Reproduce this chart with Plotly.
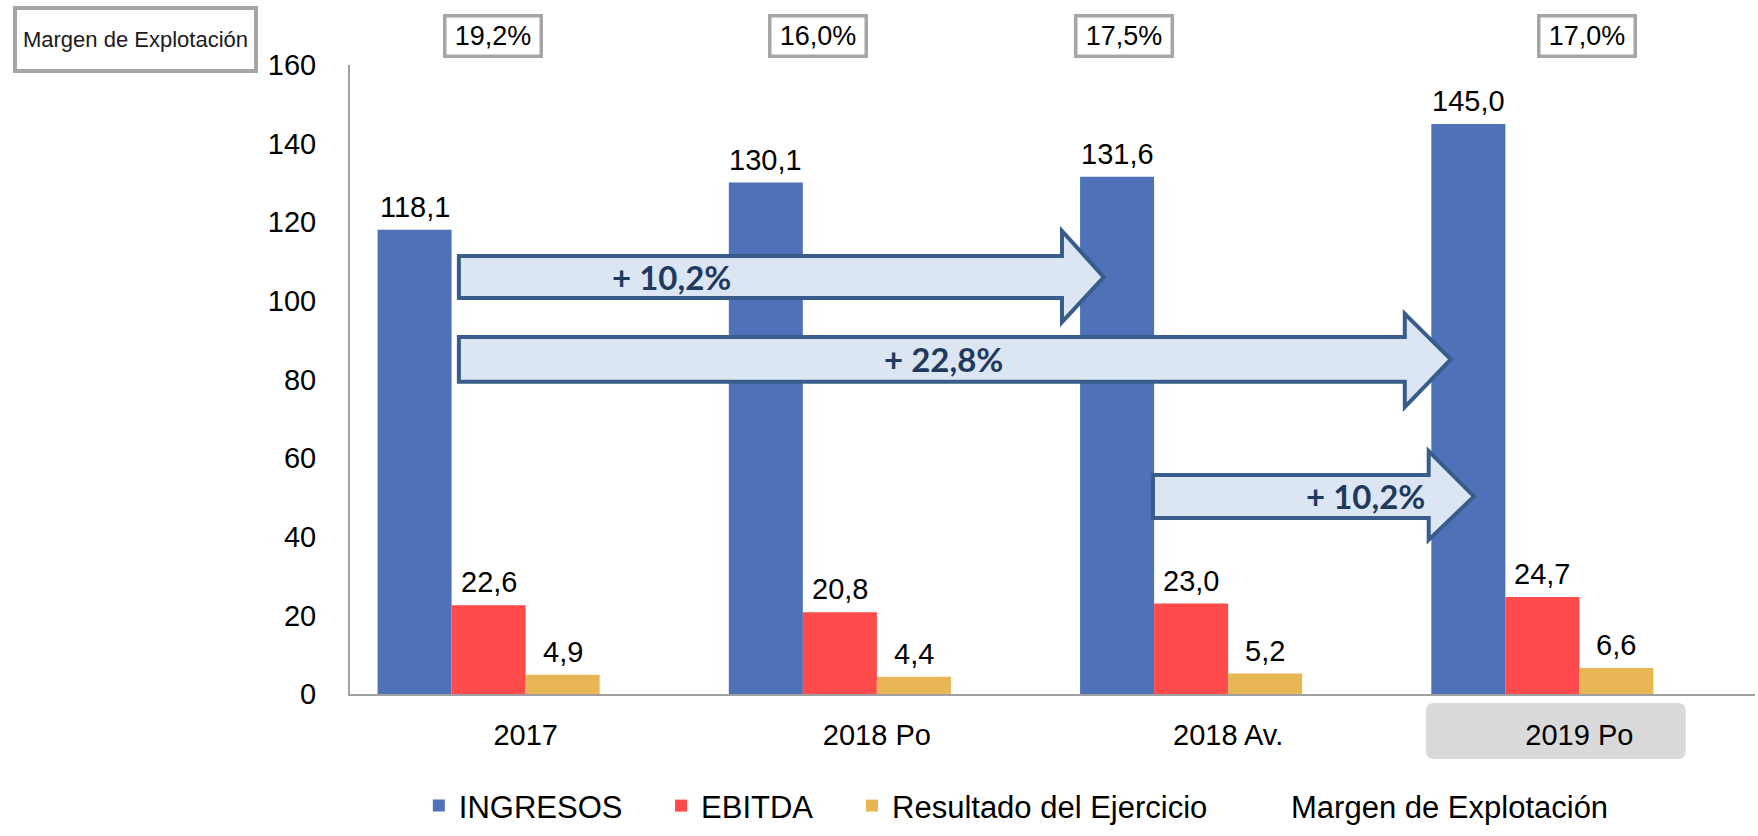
import plotly.graph_objects as go

# ---------------- data ----------------
categories = ["2017", "2018 Po", "2018 Av.", "2019 Po"]
ingresos = [118.1, 130.1, 131.6, 145.0]
ebitda = [22.6, 20.8, 23.0, 24.7]
resultado = [4.9, 4.4, 5.2, 6.6]
margen = [19.2, 16.0, 17.5, 17.0]
growth_labels = ["+ 10,2%", "+ 22,8%", "+ 10,2%"]
y_ticks = [0, 20, 40, 60, 80, 100, 120, 140, 160]

series_names = ["INGRESOS", "EBITDA", "Resultado del Ejercicio", "Margen de Explotación"]
colors = ["#4f71b7", "#ff4b4b", "#e8b654", "rgba(0,0,0,0)"]
legend_ids = ["legend", "legend2", "legend3", "legend4"]
legend_x = [0.049, 0.2214, 0.3573, 0.6413]

FONT = "Liberation Sans, Arial, sans-serif"
BARGAP = 0.157


def fmt(v, dec=1):
    return f"{v:.{dec}f}".replace(".", ",")


fig = go.Figure()
all_series = [ingresos, ebitda, resultado, margen]
for name, vals, col, lid in zip(series_names, all_series, colors, legend_ids):
    fig.add_trace(go.Bar(
        x=categories, y=vals, name=name, legend=lid,
        marker=dict(color=col, line=dict(width=0)),
        hovertemplate=name + ": %{y}<extra></extra>",
    ))

annotations = []
shapes = []

# data labels above visible bars
n = len(all_series)
slot = (1 - BARGAP) / n
for si, vals in enumerate(all_series[:3]):
    for j, v in enumerate(vals):
        annotations.append(dict(
            x=j + (si - (n - 1) / 2) * slot, y=v, xref="x", yref="y",
            text=fmt(v), showarrow=False, yanchor="bottom", yshift=5,
            font=dict(family=FONT, size=29, color="#000000"),
        ))

# margin boxes at the top
margin_box_x = [-0.094, 0.832, 1.703, 3.021]
for xb, m in zip(margin_box_x, margen):
    annotations.append(dict(
        x=xb, y=1.0454, xref="x", yref="paper", text=fmt(m) + "%",
        showarrow=False, xanchor="center", yanchor="middle",
        font=dict(family=FONT, size=27, color="#000000"),
        bgcolor="#ffffff", bordercolor="#a6a6a6", borderwidth=3.5, borderpad=0,
        width=93, height=37,
    ))

# top-left legend box
annotations.append(dict(
    x=-0.153, y=1.0398, xref="paper", yref="paper",
    text="Margen de Explotación", showarrow=False,
    xanchor="center", yanchor="middle",
    font=dict(family=FONT, size=22, color="#1a1a1a"),
    bgcolor="#ffffff", bordercolor="#a6a6a6", borderwidth=4, borderpad=0,
    width=237, height=59,
))


# growth arrows
def arrow_path(x0, xh, xt, yb0, yb1, yh0, yh1):
    ym = (yb0 + yb1) / 2
    return (f"M{x0},{yb0} L{xh},{yb0} L{xh},{yh0} L{xt},{ym} "
            f"L{xh},{yh1} L{xh},{yb1} L{x0},{yb1} Z")


arrows = [
    # x0, xhead, xtip, body_top, body_bottom, head_top, head_bottom, text_x
    (-0.190, 1.527, 1.646, 111.4, 100.7, 117.8, 94.6, 0.414),
    (-0.190, 2.503, 2.634, 90.8, 79.4, 96.7, 73.0, 1.191),
    (1.786, 2.571, 2.700, 55.7, 44.8, 61.8, 39.2, 2.392),
]
for (x0, xh, xt, bt, bb, ht, hb, tx), lab in zip(arrows, growth_labels):
    shapes.append(dict(
        type="path", xref="x", yref="y", layer="above",
        path=arrow_path(x0, xh, xt, bt, bb, ht, hb),
        fillcolor="#dce6f2", line=dict(color="#385d8a", width=4),
    ))
    annotations.append(dict(
        x=tx, y=(bt + bb) / 2, xref="x", yref="y", text="<b>" + lab + "</b>",
        showarrow=False, xanchor="center", yanchor="middle",
        font=dict(family="Lato, Open Sans, sans-serif", size=33, color="#1f3a5f"),
    ))

# highlight box behind the last category label
bx0, bx1, by0, by1 = 2.563, 3.303, -0.0143, -0.1033
rx, ry = 0.023, 0.0127
shapes.append(dict(
    type="path", xref="x", yref="paper", layer="below",
    path=(f"M{bx0+rx},{by0} L{bx1-rx},{by0} Q{bx1},{by0} {bx1},{by0-ry} "
          f"L{bx1},{by1+ry} Q{bx1},{by1} {bx1-rx},{by1} L{bx0+rx},{by1} "
          f"Q{bx0},{by1} {bx0},{by1+ry} L{bx0},{by0-ry} Q{bx0},{by0} {bx0+rx},{by0} Z"),
    fillcolor="#d9d9d9", line=dict(width=0),
))

legend_style = dict(
    orientation="h", xanchor="left", y=-0.178, yanchor="middle",
    font=dict(family=FONT, size=31, color="#000000"),
    bgcolor="rgba(0,0,0,0)", traceorder="normal",
)

layout_legends = {lid: dict(legend_style, x=lx) for lid, lx in zip(legend_ids, legend_x)}

fig.update_layout(
    width=1758, height=836,
    margin=dict(l=350, r=3, t=65, b=142, autoexpand=False),
    paper_bgcolor="#ffffff", plot_bgcolor="#ffffff",
    barmode="group", bargap=BARGAP, bargroupgap=0,
    separators=",.",
    font=dict(family=FONT, size=29, color="#000000"),
    showlegend=True,
    xaxis=dict(
        type="category", showgrid=False, zeroline=False,
        showline=True, linecolor="#a0a0a0", linewidth=2,
        ticks="", ticklabelstandoff=14,
        tickfont=dict(family=FONT, size=29, color="#000000"),
    ),
    yaxis=dict(
        range=[0, 160], tickvals=y_ticks, showgrid=False, zeroline=False,
        showline=True, linecolor="#a0a0a0", linewidth=2,
        ticks="", ticklabelstandoff=26,
        tickfont=dict(family=FONT, size=29, color="#000000"),
    ),
    annotations=annotations,
    shapes=shapes,
    **layout_legends,
)

fig.write_html(
    "out.html",
    config={"displayModeBar": False},
    post_script="document.body.style.margin='0px';document.body.style.padding='0px';",
)
